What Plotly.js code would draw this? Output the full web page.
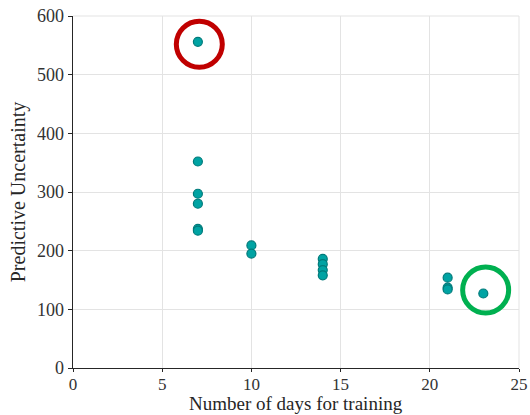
<!DOCTYPE html>
<html>
<head>
<meta charset="utf-8">
<script src="https://cdn.plot.ly/plotly-3.0.1.min.js"></script>
<style>
html,body{margin:0;padding:0;background:#fff;}
#chart{width:530px;height:415px;}
</style>
</head>
<body>
<div id="chart"></div>
<script>
// Training days and predictive uncertainty values
const days = [7, 7, 7, 7, 7, 7, 10, 10, 14, 14, 14, 14, 21, 21, 21, 23];
const uncertainty = [556, 352, 297, 280, 237, 234, 209, 195, 186, 177, 167, 158, 154, 137, 134, 127];

// Highlight circles (worst and best cases)
const highlightX = [7.08, 23.13];
const highlightY = [552, 133];
const highlightColors = ['#c00000', '#00b050'];

const xTicks = [0, 5, 10, 15, 20, 25];
const yTicks = [0, 100, 200, 300, 400, 500, 600];
const xTitle = 'Number of days for training';
const yTitle = 'Predictive Uncertainty';

const font = 'Liberation Serif, Times New Roman, serif';

const traces = [
  {
    x: days, y: uncertainty, type: 'scatter', mode: 'markers',
    marker: {size: 9, color: '#00a3a3', line: {color: '#007a7a', width: 1.2}},
    showlegend: false, hoverinfo: 'x+y'
  },
  {
    x: highlightX, y: highlightY, type: 'scatter', mode: 'markers',
    marker: {symbol: 'circle-open', size: 46, color: highlightColors, line: {color: highlightColors, width: 5}},
    showlegend: false, hoverinfo: 'skip'
  }
];

const layout = {
  width: 530, height: 415,
  margin: {l: 73, r: 11, t: 16, b: 47},
  paper_bgcolor: '#fff', plot_bgcolor: '#fff',
  font: {family: font, size: 18, color: '#262626'},
  xaxis: {
    range: [0, 25], tickvals: xTicks,
    showgrid: true, gridcolor: '#e3e3e3', gridwidth: 1,
    zeroline: false, showline: true, linecolor: '#262626', linewidth: 1.3,
    ticks: 'outside', ticklen: 3, tickcolor: '#262626', ticklabelstandoff: -3,
    tickfont: {family: font, size: 17, color: '#333333'}
  },
  yaxis: {
    range: [0, 600], tickvals: yTicks,
    showgrid: true, gridcolor: '#e3e3e3', gridwidth: 1,
    zeroline: false, showline: true, linecolor: '#262626', linewidth: 1.3,
    ticks: 'outside', ticklen: 4, tickcolor: '#262626',
    tickfont: {family: font, size: 18, color: '#333333'},
    title: {text: yTitle, font: {family: font, size: 20, color: '#262626'}, standoff: 6}
  },
  annotations: [
    {text: xTitle, xref: 'paper', yref: 'paper', x: 0.5, y: -47 / 352, xanchor: 'center', yanchor: 'bottom',
     showarrow: false, borderpad: 0, font: {family: font, size: 19, color: '#262626'}}
  ],
  shapes: [
    {type: 'line', xref: 'paper', yref: 'paper', x0: 1, x1: 1, y0: 0, y1: 1, line: {color: '#e3e3e3', width: 1}},
    {type: 'line', xref: 'paper', yref: 'paper', x0: 0, x1: 1, y0: 1, y1: 1, line: {color: '#e3e3e3', width: 1}}
  ]
};

Plotly.newPlot('chart', traces, layout, {displayModeBar: false, staticPlot: true});
</script>
</body>
</html>
